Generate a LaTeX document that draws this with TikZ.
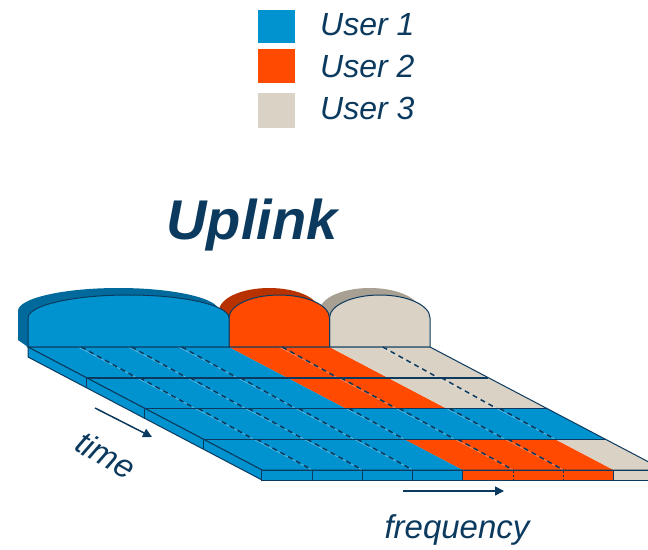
\documentclass[tikz,border=0pt]{standalone}
\usepackage{fontspec}
\setmainfont{Liberation Sans}
\usetikzlibrary{arrows.meta}
\definecolor{ublue}{HTML}{0093D0}
\definecolor{uorange}{HTML}{FF4A00}
\definecolor{ugrey}{HTML}{D9D2C5}
\definecolor{navy}{HTML}{0B3A5E}
\definecolor{ubluedk}{HTML}{006A9C}
\definecolor{uorangedk}{HTML}{B83200}
\definecolor{ugreydk}{HTML}{A8A193}
\newcommand\domepath[3]{(#1,347) -- (#1,318) arc[start angle=180,end angle=0,x radius=#3pt,y radius=23pt] -- (#2,347) -- cycle}
\tikzset{
  edge/.style={draw=navy, line width=1pt},
  rowline/.style={draw=navy, line width=1.5pt},
  dashsep/.style={draw=navy, line width=1.5pt, dash pattern=on 5pt off 4pt},
  dashlight/.style={draw=white, opacity=0.35, line width=0.8pt},
  lbl/.style={text=navy, font=\fontsize{32}{32}\selectfont\itshape, inner sep=0pt},
  axlbl/.style={text=navy, font=\fontsize{33}{33}\selectfont\itshape, inner sep=0pt},
  axarrow/.style={draw=navy, line width=1.5pt, -{Triangle[length=9pt,width=9pt]}}
}
\begin{document}
\begin{tikzpicture}[x=1pt,y=-1pt]
\useasboundingbox (0,0) rectangle (648,549);
\clip (0,0) rectangle (648,549);
% legend
\fill[ublue] (258,10) rectangle (295,43);
\fill[uorange] (258,49) rectangle (295,83);
\fill[ugrey] (258,93) rectangle (295,128);
\node[lbl, anchor=base west] (l1) at (320,35) {User 1};
\node[lbl, anchor=base west] (l2) at (320,77) {User 2};
\node[lbl, anchor=base west] (l3) at (320,119) {User 3};
% title
\node[text=navy, font=\fontsize{56}{56}\selectfont\bfseries\itshape, inner sep=0pt, anchor=base] (title) at (252,239) {Uplink};
% dome shadows
\fill[ugreydk, shift={(-10,-7)}] \domepath{329.5}{430}{50.25};
\fill[ugreydk] (319.5,340) -- (329.5,347) -- (329.5,318) -- (319.5,311) -- cycle;
\fill[uorangedk, shift={(-10,-7)}] \domepath{229}{329.5}{50.25};
\fill[uorangedk] (219,340) -- (229,347) -- (229,318) -- (219,311) -- cycle;
\fill[ubluedk, shift={(-10,-7)}] \domepath{28}{229}{100.5};
\fill[ubluedk] (18,340) -- (28,347) -- (28,318) -- (18,311) -- cycle;
% dome fronts
\filldraw[fill=ugrey, edge] \domepath{329.5}{430}{50.25};
\filldraw[fill=uorange, edge] \domepath{229}{329.5}{50.25};
\filldraw[fill=ublue, edge] \domepath{28}{229}{100.5};
% slab
\begin{scope}[shift={(28,347)}]
\begin{scope}[x={(50.25pt,0pt)}, y={(58.49pt,-30.75pt)}]
  \foreach \a/\b/\r/\c in {0/4/0/ublue,4/6/0/uorange,6/8/0/ugrey,
                           0/4/1/ublue,4/6/1/uorange,6/8/1/ugrey,
                           0/8/2/ublue,
                           0/4/3/ublue,4/7/3/uorange,7/8/3/ugrey}
    \fill[\c] (\a,\r) -- (\b,\r) -- (\b,{\r+1}) -- (\a,{\r+1}) -- cycle;
  \foreach \k/\r in {1/0,2/0,3/0,5/0,7/0,
                     1/1,2/1,3/1,5/1,7/1,
                     1/2,2/2,3/2,4/2,5/2,6/2,7/2,
                     1/3,2/3,3/3,5/3,6/3}
  {
    \draw[dashlight] (\k,\r) -- (\k,{\r+1});
    \draw[dashsep] ([xshift=3pt]\k,\r) -- (\k,{\r+1});
  }
  \foreach \r in {1,2,3}
    \draw[rowline] (0,\r) -- (8,\r);
  \draw[edge] (0,0) -- (8,0) -- (8,4) -- (0,4) -- cycle;
  % left side face
  \filldraw[fill=ublue, edge] (0,0) -- (0,4) -- ([yshift=-10pt]0,4) -- ([yshift=-10pt]0,0) -- cycle;
  \foreach \r in {1,2,3}
    \draw[edge] (0,\r) -- ([yshift=-10pt]0,\r);
  % front face
  \foreach \a/\b/\c in {0/4/ublue,4/7/uorange,7/8/ugrey}
    \filldraw[fill=\c, edge] (\a,4) -- (\b,4) -- ([yshift=-10pt]\b,4) -- ([yshift=-10pt]\a,4) -- cycle;
  \foreach \k in {1,2,3}
    \draw[edge] (\k,4) -- ([yshift=-10pt]\k,4);
  \foreach \k in {5,6}
    \draw[draw=navy, line width=1pt, dash pattern=on 2pt off 2pt] ([yshift=-1pt]\k,4) -- ([yshift=-10pt]\k,4);
\end{scope}
\end{scope}
% axes
\coordinate (ta) at (95,408);
\coordinate (tb) at (152,437);
\draw[axarrow] (ta) -- (tb);
\coordinate (fa) at (403,491);
\coordinate (fb) at (504,491);
\draw[axarrow] (fa) -- (fb);
\node[axlbl, anchor=base, rotate=-30] (time) at (100,465) {time};
\node[axlbl, anchor=base] (freq) at (457,538) {frequency};
\end{tikzpicture}
\end{document}
